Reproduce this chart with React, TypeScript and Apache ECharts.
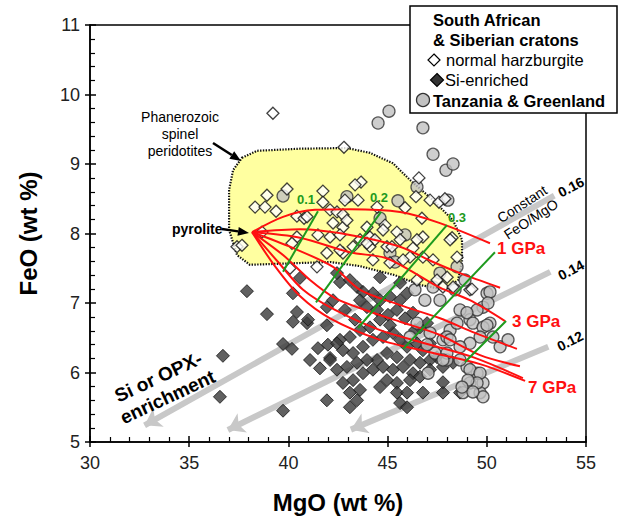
import React, { useEffect, useRef } from "react";
import * as echarts from "echarts";

const FONT = "'Liberation Sans', Arial, Helvetica, sans-serif";

const X_MIN = 30, X_MAX = 55, X_STEP = 5;
const Y_MIN = 5, Y_MAX = 11, Y_STEP = 1;

const PYROLITE: number[] = [38.17, 8.02];

const NORMAL_HARZBURGITE: number[][] = [
  [39.22, 9.73], [38.92, 8.55], [39.93, 8.64], [38.32, 8.38], [38.82, 8.38], [39.38, 8.32],
  [40.43, 8.25], [40.79, 8.22], [41.74, 8.61], [41.74, 8.45], [40.94, 8.24], [42.1, 8.34],
  [38.67, 8.02], [40.43, 7.95], [40.18, 7.86], [41.49, 7.98], [42.1, 7.95], [37.41, 7.81],
  [37.66, 7.83], [42.8, 9.24], [43.66, 8.74], [43.36, 8.7], [43.51, 8.48], [42.85, 8.48],
  [44.47, 8.38], [45.88, 8.37], [46.58, 8.8], [46.43, 8.53], [47.14, 8.48], [47.59, 8.45],
  [46.73, 8.22], [42.45, 8.31], [42.75, 8.27], [42.25, 8.15], [42.75, 8.09], [44.87, 8.12],
  [44.77, 8.05], [45.47, 8.02], [45.63, 7.91], [44.11, 7.95], [43.61, 7.91], [42.75, 7.72],
  [44.11, 7.81], [44.97, 7.81], [46.28, 7.79], [46.78, 7.95], [46.13, 7.66], [48.25, 7.94],
  [44.36, 7.91], [45.22, 7.81], [43.96, 8.09], [43.26, 7.81], [46.48, 7.91], [46.78, 7.66],
  [45.78, 7.62], [47.29, 7.62], [48.15, 7.91], [48.5, 7.66], [49.15, 7.19], [47.49, 7.33],
  [47.79, 7.23], [46.48, 7.33], [40.08, 7.5], [41.44, 7.52], [42.6, 7.76], [41.94, 7.72],
  [42.6, 7.98], [42.95, 8.19], [43.96, 7.86], [44.26, 7.62], [45.12, 7.58], [49.25, 7.2],
  [48.0, 7.37], [48.3, 7.23], [47.89, 8.5],
];

const SI_ENRICHED: number[][] = [
  [37.91, 7.17], [38.92, 6.84], [36.7, 6.24], [36.55, 5.65], [39.73, 5.45], [39.73, 6.41],
  [40.18, 6.34], [40.23, 7.14], [40.43, 6.87], [40.23, 6.73], [40.94, 6.71], [40.58, 7.36],
  [41.09, 6.18], [41.94, 6.68], [41.94, 6.94], [41.49, 6.35], [41.99, 6.4], [41.59, 6.06],
  [42.1, 6.21], [41.94, 5.6], [40.99, 6.76],
  [42.6, 7.3], [43.1, 7.33], [43.46, 7.23], [43.76, 7.16], [44.26, 7.14], [44.62, 7.04],
  [45.12, 7.09], [45.63, 7.04], [45.98, 7.14], [43.96, 6.94], [44.47, 6.9], [45.02, 6.83],
  [45.47, 6.9], [45.88, 6.78], [46.28, 6.86], [46.63, 6.65], [46.99, 6.71], [44.62, 6.76],
  [44.11, 6.65], [43.61, 6.61], [43.1, 6.51], [42.6, 6.47], [42.75, 6.32], [43.26, 6.28],
  [43.76, 6.37], [44.26, 6.47], [44.77, 6.51], [45.27, 6.57], [45.63, 6.47], [45.98, 6.37],
  [46.48, 6.42], [46.78, 6.32], [47.14, 6.42], [47.49, 6.22], [47.14, 6.18], [46.63, 6.14],
  [46.13, 6.18], [45.47, 6.22], [44.97, 6.28], [44.47, 6.18], [43.96, 6.18], [43.46, 6.14],
  [42.95, 6.08], [42.45, 6.04], [43.76, 5.99], [44.26, 6.04], [44.77, 6.08], [45.27, 6.04],
  [45.78, 6.08], [46.28, 5.99], [46.63, 5.94], [46.13, 5.89], [45.47, 5.85], [44.97, 5.89],
  [44.62, 5.79], [43.26, 5.89], [42.75, 5.85], [43.1, 5.71], [43.61, 5.75], [43.46, 5.6],
  [43.1, 5.5], [45.47, 5.71], [45.98, 5.71], [45.63, 5.56], [45.98, 5.5], [46.78, 5.71],
  [47.14, 6.04], [42.45, 6.42], [42.1, 6.18], [47.79, 5.71], [48.65, 5.71], [47.79, 5.86],
  [48.3, 6.14], [47.79, 6.08], [42.25, 7.04], [42.85, 6.9], [43.36, 6.76], [45.12, 6.68],
  [46.38, 6.61], [43.61, 7.04], [42.45, 7.43], [44.62, 7.37], [45.63, 7.29],
];

const TANZANIA_GREENLAND: number[][] = [
  [44.52, 9.59], [45.07, 9.76], [46.78, 9.52], [47.29, 9.14], [47.94, 8.91], [48.3, 9.0],
  [48.04, 8.48], [46.48, 8.67], [45.52, 8.47], [39.73, 8.54], [42.95, 8.53], [44.62, 8.22],
  [45.12, 7.72], [47.64, 7.43], [48.5, 7.52], [50.01, 7.14], [49.81, 6.94], [50.16, 6.71],
  [49.15, 6.76], [48.65, 6.9], [48.15, 6.61], [47.79, 6.47], [47.14, 6.57], [47.39, 6.28],
  [47.99, 6.18], [49.0, 6.08], [49.51, 5.99], [49.81, 5.85], [49.66, 5.71], [49.15, 5.85],
  [48.8, 5.71], [47.99, 6.51], [50.67, 6.37], [46.48, 6.71], [46.13, 6.51], [50.16, 7.16],
  [50.06, 7.0], [49.51, 6.9], [49.0, 6.86], [48.5, 6.71], [49.3, 6.71], [49.81, 6.65],
  [50.31, 6.51], [51.07, 6.47], [49.66, 6.51], [49.15, 6.42], [48.65, 6.37], [48.15, 6.47],
  [47.99, 6.28], [48.65, 6.18], [49.15, 6.04], [49.66, 5.99], [49.51, 5.85], [49.05, 5.89],
  [49.81, 5.65], [49.3, 5.72], [47.79, 6.18], [50.01, 6.68], [47.04, 5.99], [46.99, 6.4],
  [48.75, 5.79], [47.29, 7.23], [46.88, 7.04], [46.38, 7.19], [47.64, 7.04], [48.4, 7.19],
  [48.9, 7.33], [45.88, 7.98], [45.37, 7.59],
];

const SPINEL_PERIDOTITE_FIELD: number[][] = [
  [37.66, 9.09], [38.42, 9.19], [40.58, 9.22], [42.95, 9.23], [44.11, 9.16], [45.27, 9.01],
  [46.13, 8.77], [47.29, 8.48], [48.3, 8.19], [48.75, 7.91], [48.75, 7.59], [48.55, 7.33],
  [47.89, 7.19], [46.63, 7.26], [45.37, 7.4], [43.61, 7.53], [42.1, 7.59], [38.06, 7.55],
  [37.41, 7.69], [37.01, 8.05], [37.01, 8.63], [37.21, 8.91],
];

const TREND_1GPA: number[][] = [PYROLITE, [39.73, 8.24], [41.34, 8.34], [43.1, 8.35], [45.63, 8.31], [47.64, 8.15], [50.16, 7.86]];
const TREND_2GPA: number[][] = [PYROLITE, [40.58, 8.06], [43.1, 7.98], [45.63, 7.81], [47.29, 7.59], [48.65, 7.43], [50.67, 7.22]];
const TREND_3GPA: number[][] = [PYROLITE, [40.58, 7.94], [43.1, 7.73], [44.87, 7.65], [46.13, 7.47], [47.64, 7.22], [49.15, 7.04], [50.92, 6.74]];
const TREND_4GPA: number[][] = [PYROLITE, [40.08, 7.81], [42.25, 7.52], [43.61, 7.19], [45.63, 6.97], [47.64, 6.78], [49.4, 6.57], [51.52, 6.34]];
const TREND_5GPA: number[][] = [PYROLITE, [39.73, 7.69], [41.09, 7.33], [42.35, 7.07], [43.86, 6.9], [45.63, 6.73], [47.64, 6.54], [49.66, 6.25], [51.67, 6.09]];
const TREND_6GPA: number[][] = [PYROLITE, [39.48, 7.59], [40.74, 7.19], [42.35, 6.9], [44.62, 6.61], [47.14, 6.4], [49.4, 6.21], [51.82, 5.92]];
const TREND_7GPA: number[][] = [PYROLITE, [39.32, 7.53], [40.58, 7.1], [42.1, 6.78], [44.62, 6.47], [47.14, 6.29], [49.66, 6.12], [51.93, 5.88]];

const MELT_F_01: number[][] = [[41.49, 8.32], [39.73, 7.45]];
const MELT_F_02: number[][] = [[44.67, 8.31], [41.39, 7.01]];
const MELT_F_03: number[][] = [[47.99, 8.12], [43.51, 6.64]];
const MELT_F_04: number[][] = [[50.41, 7.73], [45.78, 6.34]];
const MELT_F_05: number[][] = [[50.97, 6.74], [48.9, 6.15]];

const FEO_MGO_RATIOS = [0.16, 0.14, 0.12];
const RATIO_LINE_START_MGO = [32.75, 36.95, 43.15];
const RATIO_LINE_END_MGO = [53.4, 53.2, 53.1];

function diamond(cx: number, cy: number, h: number, fill: string) {
  return {
    type: "polygon",
    shape: { points: [[cx, cy - h], [cx + h, cy], [cx, cy + h], [cx - h, cy]] },
    style: { fill, stroke: "#000", lineWidth: 1.2 },
  };
}

function txt(x: number, y: number, text: string, opts: any = {}) {
  return {
    type: "text",
    x,
    y,
    rotation: ((opts.rot || 0) * Math.PI) / 180,
    style: {
      text,
      fill: opts.color || "#000",
      fontSize: opts.size || 14,
      fontWeight: opts.bold ? "bold" : "normal",
      fontFamily: FONT,
      align: opts.align || "left",
      verticalAlign: "middle",
      lineHeight: opts.lineHeight,
    },
    z: 100,
  };
}

function arrowHead(tx: number, ty: number, fx: number, fy: number) {
  const dx = tx - fx, dy = ty - fy;
  const L = Math.sqrt(dx * dx + dy * dy);
  const ux = dx / L, uy = dy / L;
  const bx = tx - ux * 11, by = ty - uy * 11;
  const px = -uy * 4.5, py = ux * 4.5;
  return [
    { type: "line", shape: { x1: fx, y1: fy, x2: bx, y2: by }, style: { stroke: "#000", lineWidth: 2.5 }, z: 100 },
    { type: "polygon", shape: { points: [[tx, ty], [bx + px, by + py], [bx - px, by - py]] }, style: { fill: "#000" }, z: 100 },
  ];
}

export default function App() {
  const ref = useRef<HTMLDivElement>(null);
  useEffect(() => {
    if (!ref.current) return;
    const chart = echarts.init(ref.current, undefined, { renderer: "svg" });
    const axisLine = { lineStyle: { color: "#000", width: 1.5 }, onZero: false };
    const trendSeries = [TREND_1GPA, TREND_2GPA, TREND_3GPA, TREND_4GPA, TREND_5GPA, TREND_6GPA, TREND_7GPA].map((d) => ({
      type: "line",
      data: d,
      smooth: 0.3,
      showSymbol: false,
      symbol: "none",
      lineStyle: { color: "#ff1010", width: 2 },
      z: 6,
      silent: true,
    }));
    const meltSeries = [MELT_F_01, MELT_F_02, MELT_F_03, MELT_F_04, MELT_F_05].map((d) => ({
      type: "line",
      data: d,
      showSymbol: false,
      symbol: "none",
      lineStyle: { color: "#1e9a1e", width: 2 },
      z: 7,
      silent: true,
    }));
    chart.setOption({
      animation: false,
      backgroundColor: "#fff",
      grid: { left: 90, right: 33, top: 25, bottom: 79, show: true, borderColor: "#000", borderWidth: 1.5, backgroundColor: "transparent" },
      xAxis: [
        {
          type: "value", min: X_MIN, max: X_MAX, interval: X_STEP, position: "bottom",
          name: "MgO (wt %)", nameLocation: "middle", nameGap: 48,
          nameTextStyle: { fontSize: 24, fontWeight: "bold", color: "#000", fontFamily: FONT },
          axisLine,
          axisTick: { inside: true, length: 6, lineStyle: { color: "#000", width: 1.5 } },
          minorTick: { show: true, splitNumber: 5, length: 5, lineStyle: { color: "#000", width: 1.2 } },
          axisLabel: { fontSize: 18, color: "#222", margin: 12, fontFamily: FONT },
          splitLine: { show: false },
        },
        {
          type: "value", min: X_MIN, max: X_MAX, interval: X_STEP, position: "bottom",
          axisLine: { show: false, onZero: false },
          axisTick: { inside: false, length: 5, lineStyle: { color: "#000", width: 1.5 } },
          axisLabel: { show: false },
          splitLine: { show: false },
        },
      ],
      yAxis: [
        {
          type: "value", min: Y_MIN, max: Y_MAX, interval: Y_STEP, position: "left",
          name: "FeO (wt %)", nameLocation: "middle", nameGap: 50,
          nameTextStyle: { fontSize: 24, fontWeight: "bold", color: "#000", fontFamily: FONT },
          axisLine,
          axisTick: { inside: true, length: 6, lineStyle: { color: "#000", width: 1.5 } },
          minorTick: { show: true, splitNumber: 5, length: 5, lineStyle: { color: "#000", width: 1.2 } },
          axisLabel: { fontSize: 18, color: "#222", margin: 10, fontFamily: FONT },
          splitLine: { show: false },
        },
        {
          type: "value", min: Y_MIN, max: Y_MAX, interval: Y_STEP, position: "left",
          axisLine: { show: false, onZero: false },
          axisTick: { inside: false, length: 5, lineStyle: { color: "#000", width: 1.5 } },
          axisLabel: { show: false },
          splitLine: { show: false },
        },
      ],
      series: [
        {
          type: "lines",
          coordinateSystem: "cartesian2d",
          z: 1,
          silent: true,
          symbol: ["arrow", "none"],
          symbolSize: 16,
          lineStyle: { color: "#c8c8c8", width: 6, opacity: 1 },
          data: FEO_MGO_RATIOS.map((r, i) => ({
            coords: [
              [RATIO_LINE_START_MGO[i], r * RATIO_LINE_START_MGO[i]],
              [RATIO_LINE_END_MGO[i], r * RATIO_LINE_END_MGO[i]],
            ],
          })),
        },
        {
          type: "custom",
          z: 2,
          silent: true,
          data: SPINEL_PERIDOTITE_FIELD,
          renderItem: (params: any, api: any) => {
            if (params.dataIndex !== 0) return null;
            const pts = SPINEL_PERIDOTITE_FIELD.map((p) => api.coord(p));
            return {
              type: "polygon",
              shape: { points: pts },
              style: { fill: "#ffffa0", stroke: "#111", lineWidth: 2.2, lineDash: [1.4, 1.4] },
            };
          },
        },
        {
          name: "Si-enriched", type: "scatter", data: SI_ENRICHED, symbol: "diamond", symbolSize: 13, z: 3,
          itemStyle: { color: "#3a3a3a", borderColor: "#111", borderWidth: 1 },
        },
        {
          name: "Tanzania & Greenland", type: "scatter", data: TANZANIA_GREENLAND, symbol: "circle", symbolSize: 12, z: 4,
          itemStyle: { color: "#c2c2c2", borderColor: "#333", borderWidth: 1.3 },
        },
        {
          name: "normal harzburgite", type: "scatter", data: NORMAL_HARZBURGITE, symbol: "diamond", symbolSize: 12, z: 5,
          itemStyle: { color: "#fff", borderColor: "#111", borderWidth: 1.3 },
        },
        ...trendSeries,
        ...meltSeries,
      ],
      graphic: [
        // legend box
        { type: "rect", shape: { x: 410, y: 6, width: 207, height: 107 }, style: { fill: "#fff", stroke: "#000", lineWidth: 1.5 }, z: 99 },
        txt(433, 20, "South African", { size: 16.5, bold: true }),
        txt(433, 40, "& Siberian cratons", { size: 16.5, bold: true }),
        { ...diamond(434, 60, 6, "#fff"), z: 100 },
        txt(446, 60, "normal harzburgite", { size: 16.5 }),
        { ...diamond(437, 80, 6.5, "#333"), z: 100 },
        txt(445, 80, "Si-enriched", { size: 16.5 }),
        { type: "circle", shape: { cx: 423, cy: 100, r: 6.5 }, style: { fill: "#c2c2c2", stroke: "#333", lineWidth: 1.3 }, z: 100 },
        txt(433, 101, "Tanzania & Greenland", { size: 16.5, bold: true }),
        // annotations
        txt(180, 134, "Phanerozoic\nspinel\nperidotites", { size: 14, align: "center", lineHeight: 17 }),
        ...arrowHead(241, 161, 213, 143),
        txt(172, 229, "pyrolite", { size: 14, bold: true }),
        ...arrowHead(249, 233, 222, 229),
        txt(163, 387, "Si or OPX-\nenrichment", { size: 19, bold: true, align: "center", rot: 25, lineHeight: 22 }),
        // ratio labels
        txt(571, 187, "0.16", { size: 14, bold: true, align: "center", rot: 28 }),
        txt(571, 270, "0.14", { size: 14, bold: true, align: "center", rot: 28 }),
        txt(570, 341, "0.12", { size: 14, bold: true, align: "center", rot: 27 }),
        txt(522, 204, "Constant", { size: 14, align: "center", rot: 33 }),
        txt(531, 219, "FeO/MgO", { size: 14, align: "center", rot: 33 }),
        // pressure labels
        txt(497, 248, "1 GPa", { size: 17, bold: true, color: "#ff1010" }),
        txt(512, 321, "3 GPa", { size: 17, bold: true, color: "#ff1010" }),
        txt(528, 387, "7 GPa", { size: 17, bold: true, color: "#ff1010" }),
        // melt fraction labels
        txt(306, 199, "0.1", { size: 13, bold: true, color: "#1e9a1e", align: "center" }),
        txt(379, 197, "0.2", { size: 13, bold: true, color: "#1e9a1e", align: "center" }),
        txt(457, 217, "0.3", { size: 13, bold: true, color: "#1e9a1e", align: "center" }),
      ],
    });
    return () => chart.dispose();
  }, []);
  return <div ref={ref} style={{ position: "absolute", left: 0, top: 0, width: 619, height: 521 }} />;
}
